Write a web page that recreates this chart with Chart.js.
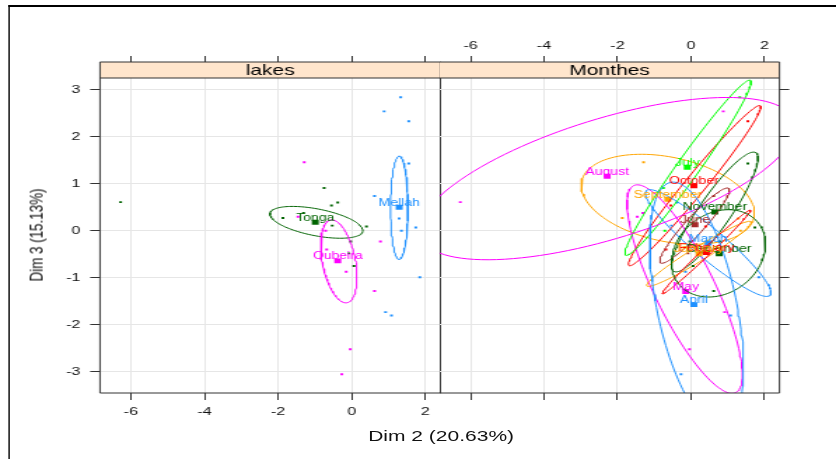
<!DOCTYPE html>
<html><head><meta charset="utf-8">
<script src="https://cdn.jsdelivr.net/npm/chart.js@4.4.1/dist/chart.umd.min.js"></script>
<style>
html,body{margin:0;padding:0;background:#fff;overflow:hidden;width:836px;height:459px}
#stage{position:absolute;left:0;top:0;width:597px;height:459px;transform:scaleX(1.40034);transform-origin:0 0}
#frame{position:absolute;left:5.8px;top:5px;width:800px;height:800px;border-left:1.4px solid #000;border-top:2px solid #000;box-sizing:border-box}
canvas{position:absolute;top:0}
#cA{left:0}
#cB{left:314px}
.t{position:absolute;font-family:'Liberation Sans',Arial,sans-serif;font-size:15px;color:#111;white-space:nowrap;line-height:1}
#tx{left:315px;top:435px;transform:translate(-50%,-50%)}
#ty{left:25.7px;top:235px;font-size:13.4px;transform:translate(-50%,-50%) rotate(-90deg)}
</style></head><body>
<div id="stage">
<div id="frame"></div>
<canvas id="cA" width="316" height="459"></canvas>
<canvas id="cB" width="283" height="459"></canvas>
<div class="t" id="tx"></div>
<div class="t" id="ty"></div>
</div>
<script>
// ---------- data ----------
const xTicks = [-6, -4, -2, 0, 2];
const yTicks = [-3, -2, -1, 0, 1, 2, 3];
const xLimits = [-6.84, 2.41];
const yLimits = [-3.45, 3.25];
const panelTitles = ['lakes', 'Monthes'];
const axisTitles = ['Dim 2 (20.63%)', 'Dim 3 (15.13%)'];

// individuals (Dim 2, Dim 3), their lake and their month
const indX = [-6.28,-0.75,-0.55,-0.38,-1.87,-1.31,-0.53,0.40,-0.03,-0.08,0.06,
              -1.29,-1.46,-0.71,-0.68,-0.15,0.78,0.62,-0.04,-0.27,
              1.33,0.88,1.55,1.55,0.62,1.29,1.35,1.74,1.85,0.92,1.08];
const indY = [0.61,0.91,0.54,0.60,0.27,0.38,0.11,0.09,-0.23,-0.48,-0.75,
              1.46,0.30,0.00,-0.40,-0.87,-0.23,-1.28,-2.52,-3.05,
              2.84,2.54,2.33,1.43,0.74,0.26,0.00,0.07,-0.99,-1.73,-1.80];
const indLake = ['Tonga','Tonga','Tonga','Tonga','Tonga','Tonga','Tonga','Tonga','Tonga','Tonga','Tonga',
                 'Oubeira','Oubeira','Oubeira','Oubeira','Oubeira','Oubeira','Oubeira','Oubeira','Oubeira',
                 'Mellah','Mellah','Mellah','Mellah','Mellah','Mellah','Mellah','Mellah','Mellah','Mellah','Mellah'];
const indMonth = ['August','July','October','March','September','May','April','February','November','June','December',
                  'September','August','July','October','March','November','December','May','April',
                  'July','August','October','November','June','September','January','December','March','May','April'];

// lakes: category points and confidence ellipses [cx, cy, ux, uy, vx, vy]
const lakeNames = ['Mellah', 'Oubeira', 'Tonga'];
const lakeCentreX = [1.29, -0.38, -0.99];
const lakeCentreY = [0.50, -0.64, 0.18];
const lakeEllipses = [
  [1.29, 0.49, 0, 1.10, 0.237, 0],
  [-0.35, -0.65, 0.22, -0.88, 0.44, 0.066],
  [-0.96, 0.18, 1.26, -0.19, 0.07, 0.28]
];

// months
const monthNames = ['April','August','December','February','January','July','June','March','May','November','October','September'];
const monthCentreX = [0.08, -2.28, 0.77, 0.42, 0.22, -0.10, 0.11, 0.47, -0.14, 0.65, 0.08, -0.63];
const monthCentreY = [-1.57, 1.16, -0.49, -0.46, -0.49, 1.35, 0.13, -0.26, -1.29, 0.40, 0.96, 0.67];
const monthEllipses = [
  [0.155, -1.59, 0.71, -2.62, 1.06, 0.177],
  [-2.28, 1.11, 5.12, 1.10, 0, 1.33],
  [0.75, -0.48, 1.12, 0.61, 0.62, -0.70],
  [0.42, -0.45, 1.20, 0.89, 0.075, -0.06],
  [0.22, -0.49, 1.42, 0.68, 0.10, -0.13],
  [-0.08, 1.34, 1.70, 1.86, 0.245, -0.136],
  [0.10, 0.11, 0.93, 0.79, 0.18, -0.13],
  [0.47, -0.26, 1.69, -1.11, -0.26, -0.245],
  [-0.17, -1.24, 1.39, -2.20, 0.73, 0.28],
  [0.65, 0.40, 1.12, 1.26, 0.357, -0.19],
  [0.10, 0.96, 1.79, 1.70, 0.21, -0.136],
  [-0.63, 0.67, 2.34, -0.40, 0.28, 0.87]
];

// ---------- style ----------
const FONT = "'Liberation Sans', Arial, Helvetica, sans-serif";
const palette = ['#1E90FF', '#FF00FF', '#006400', '#FF0000', '#FFA500', '#00FF00', '#A52A2A'];
const GRID = '#E6E6E6', AXIS = '#333333', TEXT = '#111111';

document.getElementById('tx').textContent = axisTitles[0];
document.getElementById('ty').textContent = axisTitles[1];

function ellipsePoints(e) {
  const pts = [];
  const n = 120;
  for (let k = 0; k <= n; k++) {
    const t = 2 * Math.PI * k / n;
    pts.push({ x: e[0] + e[2] * Math.cos(t) + e[4] * Math.sin(t),
               y: e[1] + e[3] * Math.cos(t) + e[5] * Math.sin(t) });
  }
  return pts;
}

function buildDatasets(names, cx, cy, ells, groupOf) {
  const ds = [];
  names.forEach((name, i) => {
    const col = palette[i % palette.length];
    const pts = [];
    indX.forEach((x, k) => { if (groupOf[k] === name) pts.push({ x: x, y: indY[k] }); });
    ds.push({ label: name + ' ellipse', data: ellipsePoints(ells[i]), showLine: true,
      borderColor: col, borderWidth: 1, pointRadius: 0, fill: false, tension: 0 });
    ds.push({ label: name + ' individuals', data: pts, pointStyle: 'rect', pointRadius: 1.4,
      backgroundColor: col, borderWidth: 0 });
    ds.push({ label: name, data: [{ x: cx[i], y: cy[i] }], pointStyle: 'rect', pointRadius: 3.5,
      backgroundColor: col, borderWidth: 0 });
  });
  return ds;
}

function labelPlugin(names, cx, cy) {
  return {
    id: 'groupLabels',
    afterDatasetsDraw(chart) {
      const ctx = chart.ctx, xs = chart.scales.x, ys = chart.scales.y;
      ctx.save();
      ctx.font = '10px ' + FONT;
      ctx.textAlign = 'center';
      ctx.textBaseline = 'alphabetic';
      names.forEach((n, i) => {
        ctx.fillStyle = palette[i % palette.length];
        ctx.fillText(n, xs.getPixelForValue(cx[i]), ys.getPixelForValue(cy[i]) - 1.5);
      });
      ctx.restore();
    }
  };
}

function panelPlugin(title, leftLine) {
  return {
    id: 'panelFrame',
    afterDraw(chart) {
      const ctx = chart.ctx, a = chart.chartArea;
      const L = a.left, R = a.right, T = a.top, B = a.bottom, ST = 62;
      ctx.save();
      ctx.fillStyle = '#FFE5CC';
      ctx.fillRect(L, ST, R - L, T - ST);
      ctx.strokeStyle = AXIS;
      ctx.lineWidth = 1;
      ctx.beginPath();
      ctx.moveTo(L, ST); ctx.lineTo(R, ST);
      ctx.moveTo(L, T); ctx.lineTo(R, T);
      ctx.moveTo(L, B); ctx.lineTo(R, B);
      ctx.moveTo(R, ST); ctx.lineTo(R, B);
      if (leftLine) { ctx.moveTo(L, ST); ctx.lineTo(L, B); }
      ctx.stroke();
      ctx.fillStyle = '#000';
      ctx.font = '15px ' + FONT;
      ctx.textAlign = 'center';
      ctx.textBaseline = 'middle';
      ctx.fillText(title, (L + R) / 2, (ST + T) / 2 + 0.5);
      ctx.restore();
    }
  };
}

function setTicks(vals) { return s => { s.ticks = vals.map(v => ({ value: v })); }; }
function noPad(s) { s.paddingLeft = 0; s.paddingRight = 0; s.paddingTop = 0; s.paddingBottom = 0; }

function xAxis(pos, showLabels, height, tickLen, pad) {
  return {
    type: 'linear', position: pos, min: xLimits[0], max: xLimits[1],
    afterBuildTicks: setTicks(xTicks),
    afterFit: s => { s.height = height; noPad(s); },
    grid: { color: GRID, tickColor: AXIS, tickLength: tickLen, lineWidth: 1,
            drawOnChartArea: pos === 'bottom' },
    border: { display: false },
    ticks: { display: showLabels, color: TEXT, font: { family: FONT, size: 11.5 },
             padding: pad, maxRotation: 0, autoSkip: false,
             callback: v => String(v) }
  };
}
function yAxis(pos, showLabels, width) {
  return {
    type: 'linear', position: pos, min: yLimits[0], max: yLimits[1],
    afterBuildTicks: setTicks(yTicks),
    afterFit: s => { s.width = width; noPad(s); },
    grid: { color: GRID, tickColor: AXIS, tickLength: 7, lineWidth: 1 },
    border: { display: false },
    ticks: { display: showLabels, color: TEXT, font: { family: FONT, size: 11.5 },
             padding: 7, autoSkip: false, callback: v => String(v) }
  };
}

const common = {
  responsive: false, maintainAspectRatio: false, animation: false, events: [],
  devicePixelRatio: 1,
  plugins: { legend: { display: false }, tooltip: { enabled: false } }
};

new Chart(document.getElementById('cA'), {
  type: 'scatter',
  data: { datasets: buildDatasets(lakeNames, lakeCentreX, lakeCentreY, lakeEllipses, indLake) },
  options: Object.assign({}, common, {
    layout: { autoPadding: false, padding: { left: 0, right: 1.5, top: 0, bottom: 0 } },
    scales: {
      x: xAxis('bottom', true, 66, 7, 5),
      xTop: xAxis('top', false, 78, 22, 3),
      y: yAxis('left', true, 71.4)
    }
  }),
  plugins: [labelPlugin(lakeNames, lakeCentreX, lakeCentreY), panelPlugin(panelTitles[0], true)]
});

new Chart(document.getElementById('cB'), {
  type: 'scatter',
  data: { datasets: buildDatasets(monthNames, monthCentreX, monthCentreY, monthEllipses, indMonth) },
  options: Object.assign({}, common, {
    layout: { autoPadding: false, padding: 0 },
    scales: {
      x: xAxis('bottom', false, 66, 7, 5),
      xTop: xAxis('top', true, 78, 22, 3),
      y: yAxis('right', false, 40.4)
    }
  }),
  plugins: [labelPlugin(monthNames, monthCentreX, monthCentreY), panelPlugin(panelTitles[1], false)]
});
</script>
</body></html>
